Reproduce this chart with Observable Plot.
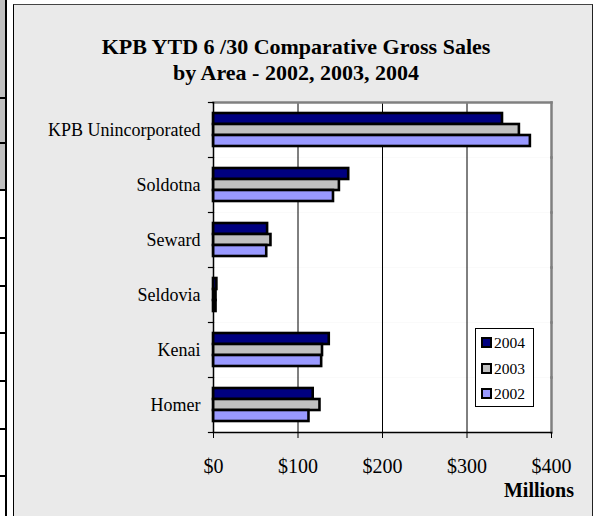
<!DOCTYPE html>
<html>
<head>
<meta charset="utf-8">
<script src="https://cdn.jsdelivr.net/npm/d3@7"></script>
<script src="https://cdn.jsdelivr.net/npm/@observablehq/plot@0.6"></script>
<style>
  html, body { margin: 0; padding: 0; background: #fff; }
  body { width: 598px; height: 516px; position: relative; overflow: hidden;
         font-family: "Liberation Serif", "Times New Roman", serif; color: #000; }
  .abs { position: absolute; }
  #frag { left: 0; top: 0; width: 5px; height: 516px; }
  #frag .cell { position: absolute; left: 0; width: 5px; }
  #frag .hl { position: absolute; left: 0; width: 7px; height: 2px; background: #000; }
  #vline { left: 5px; top: 0; width: 2px; height: 516px; background: #000; }
  #box { left: 13px; top: 4px; width: 580px; height: 520px; box-sizing: border-box;
         background: #eaeaea; border-left: 1px solid #000; border-top: 1px solid #444;
         border-right: 1px solid #222; }
  #title { left: 14px; top: 34px; width: 564px; text-align: center;
           font: bold 22px/26px "Liberation Serif", "Times New Roman", serif; }
  #chart { left: 14px; top: 90px; }
  #legend { left: 475px; top: 328px; width: 59px; height: 79px; box-sizing: border-box;
            background: #fff; border: 1px solid #000; }
  .item { position: absolute; left: 5px; height: 16px; font: 15.5px/16px "Liberation Serif", "Times New Roman", serif; }
  .sw { position: absolute; left: 0; top: 2px; width: 11px; height: 11px; box-sizing: border-box; border: 2px solid #000; }
  .lt { position: absolute; left: 13px; top: 0; white-space: nowrap; }
  #unit { left: 454px; top: 478px; width: 120px; text-align: right;
          font: bold 20px/24px "Liberation Serif", "Times New Roman", serif; }
</style>
</head>
<body>
<div id="frag" class="abs"></div>
<div id="vline" class="abs"></div>
<div id="box" class="abs"></div>
<div id="title" class="abs">KPB YTD 6 /30 Comparative Gross Sales<br>by Area - 2002, 2003, 2004</div>
<div id="chart" class="abs"></div>
<div id="legend" class="abs"></div>
<div id="unit" class="abs">Millions</div>
<script>
// ---- data ----
const areas = ["KPB Unincorporated", "Soldotna", "Seward", "Seldovia", "Kenai", "Homer"];
const years = ["2004", "2003", "2002"];
const sales2004 = [342, 160, 64, 4, 137, 118];
const sales2003 = [362, 149, 68, 3, 129, 126];
const sales2002 = [375, 142, 63, 3, 128, 113];
const xTicks = [0, 100, 200, 300, 400];
const yearColors = ["#000080", "#c0c0c0", "#9999ff"];

// ---- left page fragment (neighbouring table edge) ----
const frag = document.getElementById("frag");
[[0, 98], [98, 143], [143, 190]].forEach(([a, b]) => {
  const c = document.createElement("div");
  c.className = "cell"; c.style.top = a + "px"; c.style.height = (b - a) + "px"; c.style.background = "#c0c0c0";
  frag.appendChild(c);
});
[98, 143, 190, 238, 286, 333, 381, 429, 476].forEach(y => {
  const l = document.createElement("div");
  l.className = "hl"; l.style.top = (y - 1) + "px"; frag.appendChild(l);
});

// ---- table ----
const seriesByYear = {"2004": sales2004, "2003": sales2003, "2002": sales2002};
const rows = [];
areas.forEach((a, i) => years.forEach(y => rows.push({area: a, year: y, value: seriesByYear[y][i]})));

const W = 579, H = 413, ML = 199, MR = 42, MT = 12, MB = 70.5;
const plotW = W - ML - MR;

const chart = Plot.plot({
  width: W, height: H,
  marginLeft: ML, marginRight: MR, marginTop: MT, marginBottom: MB,
  style: {fontFamily: "'Liberation Serif', 'Times New Roman', serif", color: "#000", background: "transparent", overflow: "visible"},
  x: {domain: [0, 400], axis: null},
  y: {domain: years, paddingInner: 0, paddingOuter: 0.8, axis: null},
  fy: {domain: areas, padding: 0, axis: null},
  color: {domain: years, range: yearColors},
  marks: [
    Plot.frame({fill: "#fff", stroke: null}),
    Plot.gridX({ticks: [100, 200, 300], stroke: "#000", strokeOpacity: 1, strokeWidth: 1}),
    Plot.frame({anchor: "top", facetAnchor: "top", stroke: "#808080", strokeWidth: 2.5}),
    Plot.frame({anchor: "right", stroke: "#808080", strokeWidth: 2.5}),
    Plot.barX(rows, {fy: "area", y: "year", x: "value", fill: "year", stroke: "#000", strokeWidth: 2.6}),
    Plot.ruleX([0], {stroke: "#000", strokeWidth: 1.5}),
    Plot.frame({anchor: "bottom", facetAnchor: "bottom", stroke: "#000", strokeWidth: 1.5}),
    Plot.frame({anchor: "top", stroke: "#000", strokeWidth: 1.2, insetLeft: -5, insetRight: plotW}),
    Plot.frame({anchor: "bottom", facetAnchor: "bottom", stroke: "#000", strokeWidth: 1.2, insetLeft: -5, insetRight: plotW}),
    Plot.axisFy({anchor: "left", tickSize: 0, tickPadding: 13, fontSize: 18, label: null}),
    Plot.axisX({ticks: xTicks, tickFormat: d => "$" + d, tickSize: 6, tickPadding: 20, fontSize: 20, label: null, stroke: "#000"})
  ]
});
document.getElementById("chart").appendChild(chart);

// ---- legend ----
const legend = document.getElementById("legend");
years.forEach((y, i) => {
  const it = document.createElement("div");
  it.className = "item"; it.style.top = (6 + i * 25.5) + "px";
  const sw = document.createElement("div");
  sw.className = "sw"; sw.style.background = yearColors[i];
  const t = document.createElement("div");
  t.className = "lt"; t.textContent = y;
  it.appendChild(sw); it.appendChild(t); legend.appendChild(it);
});
</script>
</body>
</html>
